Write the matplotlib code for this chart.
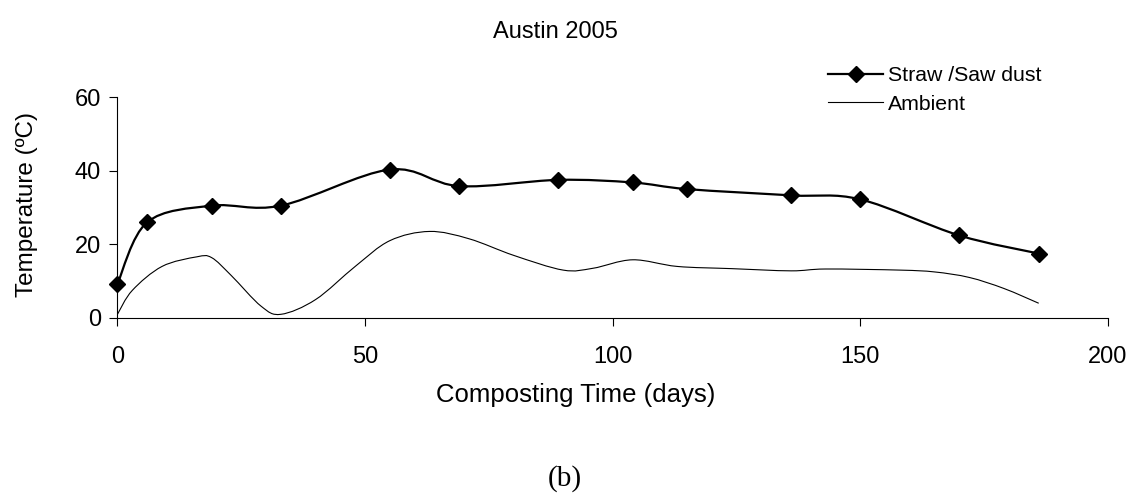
import numpy as np
import matplotlib.pyplot as plt
from matplotlib.path import Path
from matplotlib.patches import PathPatch
from matplotlib.lines import Line2D

plt.rcParams['font.family'] = ['Liberation Sans', 'DejaVu Sans']

# Straw / Saw dust pile (measured points)
straw_days = [0, 6, 19, 33, 55, 69, 89, 104, 115, 136, 150, 170, 186]
straw_temp = [9.3, 26, 30.5, 30.5, 40.3, 35.8, 37.5, 36.8, 35, 33.3, 32.2, 22.4, 17.5]

# Ambient temperature
amb_days = [0, 3, 9, 16, 19, 23, 29, 33, 40, 48, 55, 63, 71, 80, 90, 96, 104,
            113, 124, 136, 143, 158, 165, 172, 179, 186]
amb_temp = [1, 7.5, 14, 16.6, 16.4, 11.5, 3.2, 1, 5, 14, 21, 23.5, 21.5, 17, 13, 13.5, 15.8,
            14, 13.4, 12.8, 13.3, 13, 12.5, 11, 8, 4]

x_ticks = [0, 50, 100, 150, 200]
y_ticks = [0, 20, 40, 60]


# Curva suavizada tipo Excel (Bezier con puntos de control Catmull-Rom)
def curva_suave(x, y):
    x = np.asarray(x, float)
    y = np.asarray(y, float)
    n = len(x)
    verts = [(x[0], y[0])]
    codes = [Path.MOVETO]
    for i in range(n - 1):
        i0 = max(i - 1, 0)
        i3 = min(i + 2, n - 1)
        c1 = (x[i] + (x[i + 1] - x[i0]) / 6, y[i] + (y[i + 1] - y[i0]) / 6)
        c2 = (x[i + 1] - (x[i3] - x[i]) / 6, y[i + 1] - (y[i3] - y[i]) / 6)
        verts += [c1, c2, (x[i + 1], y[i + 1])]
        codes += [Path.CURVE4] * 3
    return Path(verts, codes)


fig = plt.figure(figsize=(11.36, 4.96), dpi=100)
ax = fig.add_axes([0.1034, 0.3589, 0.872, 0.4455])

ax.add_patch(PathPatch(curva_suave(amb_days, amb_temp), fill=False,
                       edgecolor='black', linewidth=0.8))
ax.add_patch(PathPatch(curva_suave(straw_days, straw_temp), fill=False,
                       edgecolor='black', linewidth=1.6))
ax.plot(straw_days, straw_temp, linestyle='none', marker='D', markersize=8,
        color='black', clip_on=False)

ax.set_xlim(0, 200)
ax.set_ylim(0, 60)
ax.set_xticks(x_ticks)
ax.set_yticks(y_ticks)
ax.spines['top'].set_visible(False)
ax.spines['right'].set_visible(False)
ax.spines['left'].set_linewidth(0.8)
ax.spines['bottom'].set_linewidth(0.8)
ax.tick_params(axis='x', direction='out', length=6, width=0.8, pad=14, labelsize=17)
ax.tick_params(axis='y', direction='out', length=6, width=0.8, pad=6, labelsize=17)

fig.text(0.489, 0.935, 'Austin 2005', ha='center', va='center', fontsize=17)
fig.text(0.507, 0.204, 'Composting Time (days)', ha='center', va='center', fontsize=18.5)
fig.text(0.024, 0.587, 'Temperature (ºC)', ha='center', va='center',
         rotation=90, fontsize=17.5)
fig.text(0.497, 0.036, '(b)', ha='center', va='center', fontsize=21,
         family=['Liberation Serif', 'DejaVu Serif'])

handles = [Line2D([], [], color='black', linewidth=1.6, marker='D', markersize=8),
           Line2D([], [], color='black', linewidth=0.8)]
fig.legend(handles, ['Straw /Saw dust', 'Ambient'], loc='upper left',
           bbox_to_anchor=(0.729, 0.867), frameon=False, fontsize=15.3,
           handlelength=2.6, handletextpad=0.2, labelspacing=0.45,
           borderpad=0, borderaxespad=0)

fig.savefig('out.png', dpi=100)
